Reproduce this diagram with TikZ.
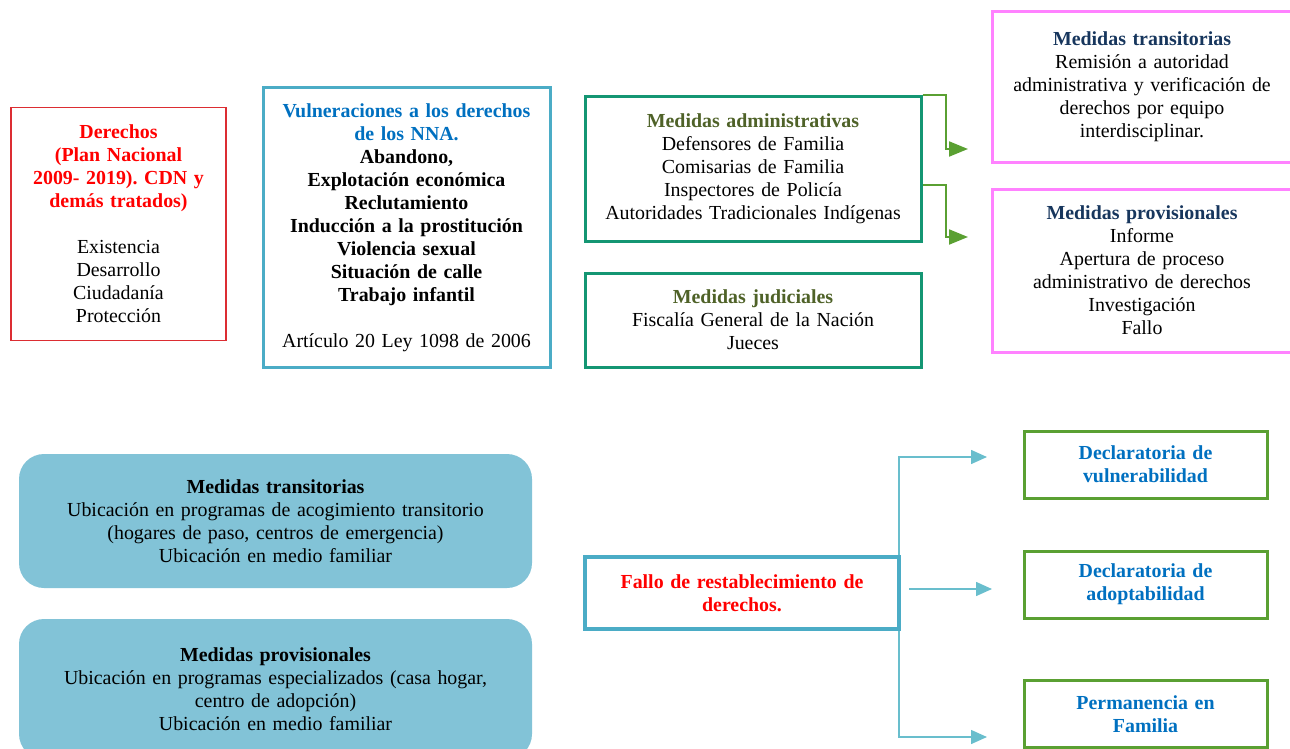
\documentclass[tikz,border=0pt]{standalone}
\usepackage{fontspec}
\setmainfont{Liberation Serif}
\usetikzlibrary{positioning, arrows.meta}
\frenchspacing
\definecolor{rojoBorde}{RGB}{220,45,50}
\definecolor{rojoTexto}{RGB}{255,0,0}
\definecolor{cian}{RGB}{75,172,198}
\definecolor{cianClaro}{RGB}{105,190,205}
\definecolor{azul}{RGB}{0,112,192}
\definecolor{teal}{RGB}{20,150,115}
\definecolor{oliva}{RGB}{79,98,40}
\definecolor{rosa}{RGB}{255,130,255}
\definecolor{marino}{RGB}{23,54,93}
\definecolor{verde}{RGB}{90,160,50}
\definecolor{relleno}{RGB}{130,195,215}
\tikzset{
    x=1pt, y=1pt, % one unit is one pixel of the reference
    every node/.style={font=\fontsize{19.9}{23}\selectfont, align=center}, % Times-like text
    node distance=120pt, % specifies the distance between two nodes. Change if necessary.
    >={Triangle[length=19pt, width=15pt]}, % filled arrow heads
}

\begin{document}
\begin{tikzpicture}[
        styleCaja/.style={draw, inner sep=0pt, text width=#1},
        styleRojo/.style={styleCaja=205pt, draw=rojoBorde, line width=1.5pt, minimum width=215pt, minimum height=233pt},
        styleCian/.style={styleCaja=280pt, draw=cian, line width=3pt, minimum width=287pt, minimum height=279pt},
        styleTeal/.style={styleCaja=330pt, draw=teal, line width=3pt, minimum width=336pt},
        styleRosa/.style={styleCaja=290pt, draw=rosa, line width=3pt, minimum width=300pt},
        styleRedondo/.style={styleCaja=500pt, draw=none, fill=relleno, rounded corners=25pt, minimum width=513pt},
        styleFallo/.style={styleCaja=300pt, draw=cian, line width=4pt, minimum width=314pt, minimum height=72pt},
        styleDecl/.style={styleCaja=235pt, draw=verde, line width=3pt, minimum width=243pt, minimum height=67pt, font=\fontsize{19.9}{23}\selectfont\bfseries, text=azul},
        flechaVerde/.style={->, draw=verde, line width=2pt},
        flechaCian/.style={->, draw=cianClaro, line width=1.5pt, >={Triangle[length=16pt, width=14pt]}},
    ]
    \clip (0,0) rectangle (1290,-749);
    \useasboundingbox (0,0) rectangle (1290,-749);

    \node[styleRojo] (der) at (118.5,-224) {{\color{rojoTexto}\bfseries Derechos\\ (Plan Nacional\\ 2009- 2019). CDN y\\ demás tratados)}\\[23pt]
        Existencia\\ Desarrollo\\ Ciudadanía\\ Protección};
    \node[styleCian] (vul) at (406.5,-227.5) {{\color{azul}\bfseries Vulneraciones a los derechos\\ de los NNA.}\\
        {\bfseries Abandono,\\ Explotación económica\\ Reclutamiento\\ Inducción a la prostitución\\ Violencia sexual\\ Situación de calle\\ Trabajo infantil}\\[23pt]
        Artículo 20 Ley 1098 de 2006};
    \node[styleTeal, minimum height=144pt] (adm) at (753,-169) {{\color{oliva}\bfseries Medidas administrativas}\\
        Defensores de Familia\\ Comisarias de Familia\\ Inspectores de Policía\\ Autoridades Tradicionales Indígenas};
    \node[styleTeal, minimum height=94pt, below of=adm, node distance=151pt] (jud) {{\color{oliva}\bfseries Medidas judiciales}\\
        Fiscalía General de la Nación\\ Jueces};
    \node[styleRosa, minimum height=150pt] (tra) at (1142,-87) {{\color{marino}\bfseries Medidas transitorias}\\
        Remisión a autoridad\\ administrativa y verificación de\\ derechos por equipo\\ interdisciplinar.};
    \node[styleRosa, minimum height=163pt] (pro) at (1142,-270.5) {{\color{marino}\bfseries Medidas provisionales}\\
        Informe\\ Apertura de proceso\\ administrativo de derechos\\ Investigación\\ Fallo};

    \node[styleRedondo, minimum height=134pt] (ubt) at (275.5,-521) {{\bfseries Medidas transitorias}\\
        Ubicación en programas de acogimiento transitorio\\ (hogares de paso, centros de emergencia)\\ Ubicación en medio familiar};
    \node[styleRedondo, minimum height=140pt] (ubp) at (275.5,-689) {{\bfseries Medidas provisionales}\\
        Ubicación en programas especializados (casa hogar,\\ centro de adopción)\\ Ubicación en medio familiar};
    \node[styleFallo] (fal) at (742,-593) {\color{rojoTexto}\bfseries Fallo de restablecimiento de\\ derechos.};
    \node[styleDecl] (dv) at (1145.5,-464.5) {Declaratoria de\\ vulnerabilidad};
    \node[styleDecl, below of=dv] (da) {Declaratoria de\\ adoptabilidad};
    \node[styleDecl] (pf) at (1145.5,-714) {Permanencia en\\ Familia};

    \coordinate (fv1) at (968,-149);
    \coordinate (fv2) at (968,-237);
    \coordinate (fc1) at (987,-457);
    \coordinate (fc2) at (992,-589);
    \coordinate (fc3) at (987,-737);

    \draw[flechaVerde] (adm.north east) -- ++(23,0) |- (fv1);
    \draw[flechaVerde] ([yshift=-16pt]adm.east) -- ++(23,0) |- (fv2);
    \draw[flechaCian] ([xshift=-2pt]fal.north east) |- (fc1);
    \draw[flechaCian] ([xshift=8pt, yshift=4pt]fal.east) -- (fc2);
    \draw[flechaCian] ([xshift=-2pt]fal.south east) |- (fc3);
\end{tikzpicture}
\end{document}
